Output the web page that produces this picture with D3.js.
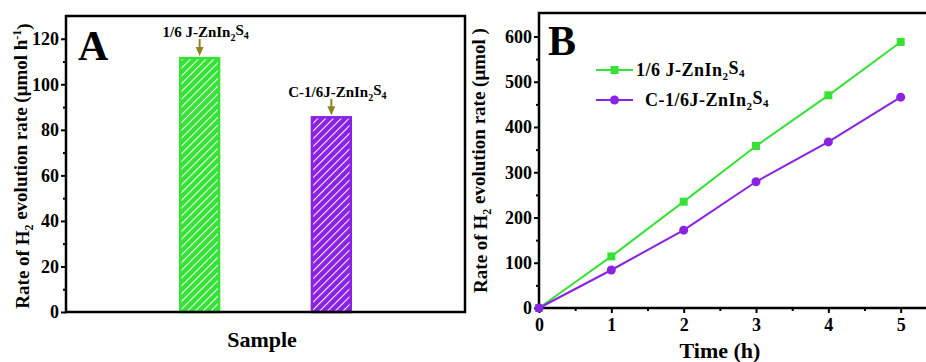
<!DOCTYPE html>
<html><head><meta charset="utf-8">
<script src="https://cdn.jsdelivr.net/npm/d3@7/dist/d3.min.js"></script>
<style>body{margin:0;background:#fff}svg{display:block}text{font-family:"Liberation Serif","Times New Roman",serif;font-weight:bold}</style>
</head><body><svg id="c" width="926" height="362"></svg>
<script>
// ---- data ----
const barCategories = ["1/6 J-ZnIn2S4", "C-1/6J-ZnIn2S4"];
const barValues = [111.5, 85.5];
const barTicks = [0, 20, 40, 60, 80, 100, 120];
const timeHours = [0, 1, 2, 3, 4, 5];
const seriesJ = [0, 114, 235, 358, 470, 588];
const seriesC = [0, 84, 172, 279, 367, 466];
const lineYTicks = [0, 100, 200, 300, 400, 500, 600];
const lineXTicks = [0, 1, 2, 3, 4, 5];

const GREEN = "#36e236", PURPLE = "#8a22e6", OLIVE = "#8f8320";
const svg = d3.select("#c");
const defs = svg.append("defs");
function hatch(id, col){
  const p = defs.append("pattern").attr("id", id).attr("patternUnits","userSpaceOnUse")
    .attr("width",5.5).attr("height",5.5).attr("patternTransform","rotate(45)");
  p.append("rect").attr("width",5.5).attr("height",5.5).attr("fill",col);
  p.append("line").attr("x1",0).attr("y1",0).attr("x2",0).attr("y2",5.5).attr("stroke","#fff").attr("stroke-width",2);
}
hatch("hg", GREEN); hatch("hp", PURPLE);

function rich(sel, parts, small){
  let prev = null;
  parts.forEach(([t, k]) => {
    const ts = sel.append("tspan").text(t);
    if (k === "sub") { ts.attr("font-size", small).attr("dy", "0.35em"); }
    else if (k === "sup") { ts.attr("font-size", small).attr("dy", "-0.5em"); }
    else if (prev === "sub") ts.attr("dy", "-0.35em");
    else if (prev === "sup") ts.attr("dy", "0.5em");
    prev = k;
  });
}
const ZIS = [["1/6 J-ZnIn",null],["2","sub"],["S",null],["4","sub"]];
const CZIS = [["C-1/6J-ZnIn",null],["2","sub"],["S",null],["4","sub"]];

// ---------- Panel A ----------
const A = {l:66, r:465, t:16, b:312};
const yA = d3.scaleLinear().domain([0,130]).range([A.b, A.t]);
const xA = d3.scaleBand().domain(barCategories).range([A.l, A.r]).paddingInner(0.69).paddingOuter(0.86);
const gA = svg.append("g");
gA.selectAll("rect.bar").data(barValues).enter().append("rect").attr("class","bar")
  .attr("x",(d,i)=>xA(barCategories[i])+1).attr("width",xA.bandwidth()-2)
  .attr("y",d=>yA(d)).attr("height",d=>yA(0)-yA(d))
  .attr("fill",(d,i)=>i?"url(#hp)":"url(#hg)")
  .attr("stroke",(d,i)=>i?PURPLE:GREEN).attr("stroke-width",2.5);
gA.append("rect").attr("x",A.l).attr("y",A.t).attr("width",A.r-A.l).attr("height",A.b-A.t)
  .attr("fill","none").attr("stroke","#000").attr("stroke-width",2.5);
const axA = gA.append("g").attr("transform",`translate(${A.l},0)`)
  .call(d3.axisLeft(yA).tickValues(barTicks).tickSize(5).tickPadding(2));
gA.append("g").attr("transform",`translate(${A.l},0)`)
  .call(d3.axisLeft(yA).tickValues(d3.range(10,130,20)).tickSize(3).tickFormat(""))
  .call(g=>g.select(".domain").remove());
axA.select(".domain").remove();
axA.selectAll("text").attr("font-size",18).attr("font-family","Liberation Serif").attr("font-weight","bold").attr("fill","#000");
const labA = [{parts:ZIS, dx:6, by:37}, {parts:CZIS, dx:6, by:97}];
barValues.forEach((v,i)=>{
  const cx = xA(barCategories[i]) + xA.bandwidth()/2;
  const t = gA.append("text").attr("x",cx+labA[i].dx).attr("y",labA[i].by).attr("text-anchor","middle").attr("font-size",15);
  rich(t, labA[i].parts, 10);
  const y0 = labA[i].by + 2, y1 = yA(v) - 2;
  gA.append("line").attr("x1",cx).attr("x2",cx).attr("y1",y0).attr("y2",y1-6).attr("stroke",OLIVE).attr("stroke-width",2);
  gA.append("path").attr("d",`M${cx-4},${y1-9}L${cx+4},${y1-9}L${cx},${y1}Z`).attr("fill",OLIVE);
});
gA.append("text").attr("x",78).attr("y",60).attr("font-size",42).text("A");
rich(gA.append("text").attr("transform",`translate(29,${(A.t+A.b)/2+2}) rotate(-90)`).attr("text-anchor","middle").attr("font-size",19),
  [["Rate of H",null],["2","sub"],[" evolution rate (μmol h",null],["-1","sup"],[")",null]], 12);
gA.append("text").attr("x",262).attr("y",347).attr("text-anchor","middle").attr("font-size",22).text("Sample");

// ---------- Panel B ----------
const B = {l:539, r:930, t:13, b:308};
const xB = d3.scaleLinear().domain([0,5]).range([B.l, 900.7]);
const yB = d3.scaleLinear().domain([0,600]).range([B.b, 36.5]);
const gB = svg.append("g");
const axBY = gB.append("g").attr("transform",`translate(${B.l},0)`)
  .call(d3.axisLeft(yB).tickValues(lineYTicks).tickSize(5).tickPadding(2));
gB.append("g").attr("transform",`translate(${B.l},0)`)
  .call(d3.axisLeft(yB).tickValues(d3.range(50,650,100)).tickSize(3).tickFormat(""))
  .call(g=>g.select(".domain").remove());
const axBX = gB.append("g").attr("transform",`translate(0,${B.b})`)
  .call(d3.axisBottom(xB).tickValues(lineXTicks).tickFormat(d3.format("d")).tickSize(5).tickPadding(5));
gB.append("g").attr("transform",`translate(0,${B.b})`)
  .call(d3.axisBottom(xB).tickValues(d3.range(0.5,5.5,1)).tickSize(3).tickFormat(""))
  .call(g=>g.select(".domain").remove());
axBY.select(".domain").remove(); axBX.select(".domain").remove();
svg.selectAll(".tick line").attr("stroke","#000").attr("stroke-width",2);
gB.selectAll("text").attr("font-size",18).attr("font-family","Liberation Serif").attr("font-weight","bold").attr("fill","#000");
gB.append("path").attr("d",`M${B.r},${B.t}H${B.l}V${B.b}H${B.r}`).attr("fill","none").attr("stroke","#000").attr("stroke-width",2.5);
const line = d3.line().x((d,i)=>xB(timeHours[i])).y(d=>yB(d));
gB.append("path").datum(seriesJ).attr("d",line).attr("fill","none").attr("stroke",GREEN).attr("stroke-width",2);
gB.append("path").datum(seriesC).attr("d",line).attr("fill","none").attr("stroke",PURPLE).attr("stroke-width",2);
gB.selectAll("rect.mk").data(seriesJ).enter().append("rect").attr("class","mk")
  .attr("x",(d,i)=>xB(timeHours[i])-4).attr("y",d=>yB(d)-4).attr("width",8).attr("height",8).attr("fill",GREEN);
gB.selectAll("circle.mk").data(seriesC).enter().append("circle").attr("class","mk")
  .attr("cx",(d,i)=>xB(timeHours[i])).attr("cy",d=>yB(d)).attr("r",4.5).attr("fill",PURPLE);
gB.append("line").attr("x1",596).attr("x2",633).attr("y1",70).attr("y2",70).attr("stroke",GREEN).attr("stroke-width",2);
gB.append("rect").attr("x",610.5).attr("y",66).attr("width",8).attr("height",8).attr("fill",GREEN);
gB.append("line").attr("x1",596).attr("x2",633).attr("y1",100).attr("y2",100).attr("stroke",PURPLE).attr("stroke-width",2);
gB.append("circle").attr("cx",614.5).attr("cy",100).attr("r",4.5).attr("fill",PURPLE);
rich(gB.append("text").attr("x",636).attr("y",76).attr("font-size",18).attr("letter-spacing",0.5), ZIS, 11);
rich(gB.append("text").attr("x",645).attr("y",106).attr("font-size",18).attr("letter-spacing",0.5), CZIS, 11);
gB.append("text").attr("x",548).attr("y",55).attr("font-size",42).text("B");
rich(gB.append("text").attr("transform",`translate(487,${(B.t+B.b)/2}) rotate(-90)`).attr("text-anchor","middle").attr("font-size",19),
  [["Rate of H",null],["2","sub"],[" evolution rate (μmol )",null]], 12);
gB.append("text").attr("x",720).attr("y",358).attr("text-anchor","middle").attr("font-size",22).text("Time (h)");
</script></body></html>
